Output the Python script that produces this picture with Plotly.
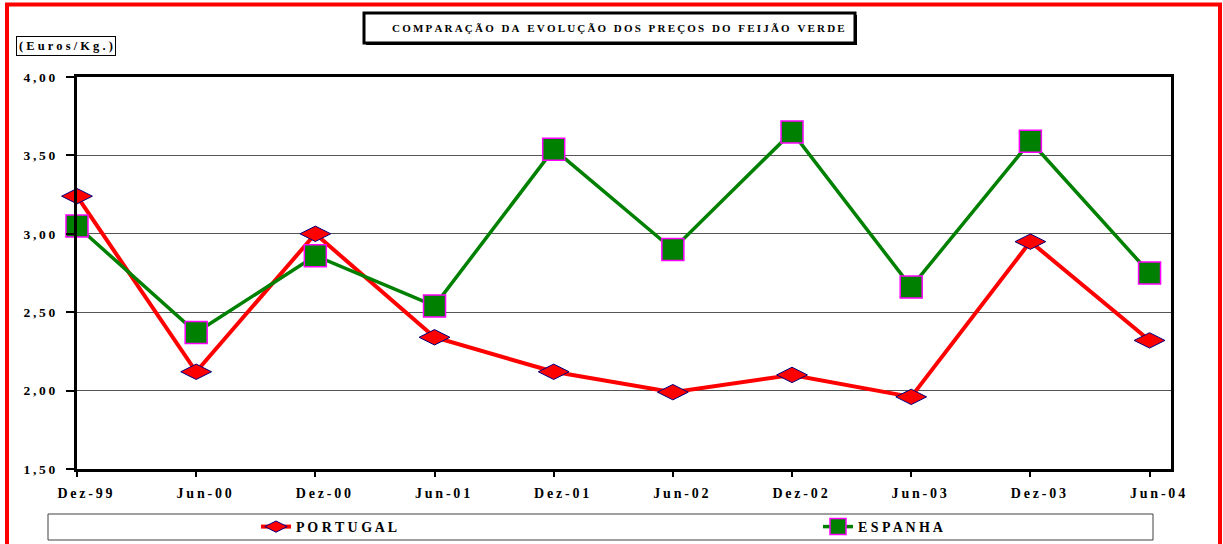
import plotly.graph_objects as go

# data
periods = ["Dez-99", "Jun-00", "Dez-00", "Jun-01", "Dez-01",
           "Jun-02", "Dez-02", "Jun-03", "Dez-03", "Jun-04"]
portugal = [3.24, 2.12, 3.00, 2.34, 2.12, 1.99, 2.10, 1.96, 2.95, 2.32]
espanha = [3.05, 2.37, 2.86, 2.54, 3.54, 2.90, 3.65, 2.66, 3.59, 2.75]
series_names = ["PORTUGAL", "ESPANHA"]
y_ticks = [1.5, 2.0, 2.5, 3.0, 3.5, 4.0]
title_text = "COMPARAÇÃO DA EVOLUÇÃO DOS PREÇOS DO FEIJÃO VERDE"
unit_text = "(Euros/Kg.)"

W, H = 1223, 544
ML, MR, MT, MB = 77, 52, 77, 75
PW, PH = W - ML - MR, H - MT - MB


def spaced(s, gap=" ", word_gap="\u2003"):
    # fake the wide letter spacing of the original
    return word_gap.join(gap.join(w) for w in s.split(" "))


def px(x):
    return (x - ML) / PW


def py(y):
    return (H - MB - y) / PH


FONT = "Liberation Serif"

fig = go.Figure()

fig.add_trace(go.Scatter(
    x=periods, y=portugal, name=spaced(series_names[0]),
    mode="lines+markers",
    line=dict(color="#FF0000", width=4),
    marker=dict(symbol="diamond-wide", size=22, color="#FF0000",
                line=dict(color="#000080", width=1)),
    cliponaxis=False, legend="legend",
))
fig.add_trace(go.Scatter(
    x=periods, y=espanha, name=spaced(series_names[1]),
    mode="lines+markers",
    line=dict(color="#008000", width=3.5),
    marker=dict(symbol="square", size=22, color="#008000",
                line=dict(color="#FF00FF", width=1.5)),
    cliponaxis=False, legend="legend2",
))

shapes = [
    # red frame around the whole chart
    dict(type="rect", xref="paper", yref="paper", layer="above",
         x0=px(7), x1=px(1220), y0=py(4.5), y1=py(620),
         line=dict(color="#FF0000", width=4)),
    # title box shadow + box
    dict(type="rect", xref="paper", yref="paper",
         x0=px(366), x1=px(857), y0=py(15), y1=py(45),
         line=dict(width=0), fillcolor="black"),
    dict(type="rect", xref="paper", yref="paper",
         x0=px(364), x1=px(855), y0=py(13), y1=py(43),
         line=dict(color="black", width=3), fillcolor="white"),
    # legend box
    dict(type="rect", xref="paper", yref="paper",
         x0=px(48), x1=px(1153), y0=py(514), y1=py(540),
         line=dict(color="#404040", width=1), fillcolor="white", layer="below"),
]

annotations = [
    dict(text="<b>" + spaced(title_text, gap="\u2009", word_gap="\u2002\u2009") + "</b>",
         xref="paper", yref="paper", xanchor="center", yanchor="middle",
         x=px(618), y=py(28.5), showarrow=False,
         font=dict(family=FONT, size=11, color="black")),
    dict(text="<b>" + spaced(unit_text) + "</b>", xref="paper", yref="paper",
         xanchor="center", yanchor="middle",
         x=px(66), y=py(46.5), showarrow=False,
         font=dict(family=FONT, size=12.5, color="black"),
         bordercolor="black", borderwidth=1, borderpad=2, bgcolor="white"),
]

legend_common = dict(orientation="h", yanchor="middle", xanchor="left",
                     bgcolor="rgba(0,0,0,0)", borderwidth=0,
                     font=dict(family=FONT, size=14, color="black", weight="bold"))

fig.update_layout(
    width=W, height=H,
    margin=dict(l=ML, r=MR, t=MT, b=MB, autoexpand=False),
    paper_bgcolor="white", plot_bgcolor="white",
    font=dict(family=FONT, size=12, color="black"),
    showlegend=True,
    legend=dict(x=px(256), y=py(527), **legend_common),
    legend2=dict(x=px(818), y=py(527), **legend_common),
    shapes=shapes,
    annotations=annotations,
    xaxis=dict(
        type="category", range=[0, 9.18],
        tickvals=periods, ticktext=[spaced(p, gap="\u2009") for p in periods],
        ticks="outside", ticklen=5, tickwidth=2, tickcolor="black",
        showline=True, linecolor="black", linewidth=3, mirror=True,
        showgrid=False, ticklabelstandoff=4, ticklabelshift=8,
        tickfont=dict(family=FONT, size=14, color="black", weight="bold"),
    ),
    yaxis=dict(
        range=[1.5, 4.0], tickvals=y_ticks,
        ticktext=[spaced(f"{v:.2f}".replace(".", ","), gap="\u2009") for v in y_ticks],
        ticks="outside", ticklen=8, tickwidth=2, tickcolor="black",
        showline=True, linecolor="black", linewidth=3, mirror=True,
        showgrid=True, gridcolor="#555555", gridwidth=1, zeroline=False,
        ticklabelstandoff=8,
        tickfont=dict(family=FONT, size=13.5, color="black", weight="bold"),
    ),
)

fig.write_html("out.html", config={"displayModeBar": False},
               post_script="document.body.style.margin='0';document.body.style.overflow='hidden';")
